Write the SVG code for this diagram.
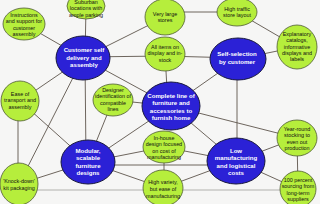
<svg xmlns="http://www.w3.org/2000/svg" width="320" height="204" viewBox="0 0 320 204">
<style>
.c line{stroke:#5e554c;stroke-width:0.9}
.g ellipse{fill:#b6ee3c;stroke:#4e5a34;stroke-width:0.8}
.b ellipse{fill:#2b21d6;stroke:#18183e;stroke-width:1}
.g text{font-family:"Liberation Sans",Arial,sans-serif;font-size:5.4px;fill:#111;text-anchor:middle}
.b text{font-family:"Liberation Sans",Arial,sans-serif;font-size:6.1px;font-weight:bold;fill:#fff;text-anchor:middle}
</style>
<rect width="320" height="204" fill="#f6f6f5"/>
<g id="connectors" class="c">
<line x1="32" y1="190" x2="285" y2="190" style="stroke:#a9a9a6"/>
<line x1="83" y1="58" x2="24" y2="24"/>
<line x1="85" y1="58" x2="86" y2="7"/>
<line x1="83" y1="58" x2="165" y2="17"/>
<line x1="83" y1="57" x2="165" y2="56"/>
<line x1="165" y1="56" x2="238" y2="58"/>
<line x1="165" y1="12" x2="237" y2="12"/>
<line x1="237" y1="12" x2="297" y2="47"/>
<line x1="297" y1="47" x2="238" y2="59"/>
<line x1="238" y1="59" x2="171" y2="106"/>
<line x1="165" y1="54" x2="168" y2="106"/>
<line x1="83" y1="58" x2="171" y2="106"/>
<line x1="83" y1="58" x2="20" y2="101"/>
<line x1="85" y1="58" x2="86" y2="162"/>
<line x1="83" y1="58" x2="19" y2="184"/>
<line x1="18" y1="101" x2="18" y2="184"/>
<line x1="20" y1="101" x2="88" y2="162"/>
<line x1="19" y1="184" x2="88" y2="162"/>
<line x1="113" y1="100" x2="88" y2="162"/>
<line x1="113" y1="100" x2="171" y2="106"/>
<line x1="171" y1="106" x2="88" y2="162"/>
<line x1="171" y1="106" x2="236" y2="161"/>
<line x1="171" y1="106" x2="297" y2="138"/>
<line x1="237" y1="59" x2="237" y2="161"/>
<line x1="88" y1="162" x2="164" y2="147"/>
<line x1="88" y1="165" x2="236" y2="165"/>
<line x1="88" y1="162" x2="163" y2="188"/>
<line x1="164" y1="147" x2="236" y2="161"/>
<line x1="163" y1="188" x2="236" y2="161"/>
<line x1="164" y1="147" x2="164" y2="188"/>
<line x1="236" y1="161" x2="297" y2="138"/>
<line x1="236" y1="161" x2="298" y2="189"/>
<line x1="297" y1="138" x2="298" y2="189"/>
</g>
<g id="n-instructions" class="g"><ellipse cx="24" cy="24" rx="21" ry="16"/><text x="24" y="17">Instructions</text><text x="24" y="23.3">and support for</text><text x="24" y="29.6">customer</text><text x="24" y="35.9">assembly</text></g>
<g id="n-suburban" class="g"><ellipse cx="86" cy="6" rx="19" ry="13"/><text x="86" y="4">Suburban</text><text x="86" y="10.3">locations with</text><text x="86" y="16.6">ample parking</text></g>
<g id="n-verylarge" class="g"><ellipse cx="165" cy="17" rx="20" ry="18"/><text x="165" y="16">Very large</text><text x="165" y="22.3">stores</text></g>
<g id="n-allitems" class="g"><ellipse cx="165" cy="54" rx="20" ry="17"/><text x="165" y="49">All items on</text><text x="165" y="55.3">display and in-</text><text x="165" y="61.6">stock</text></g>
<g id="n-hightraffic" class="g"><ellipse cx="237" cy="12" rx="20" ry="14"/><text x="237" y="11">High traffic</text><text x="237" y="17.3">store layout</text></g>
<g id="n-explanatory" class="g"><ellipse cx="297" cy="47" rx="20" ry="22"/><text x="297" y="36">Explanatory</text><text x="297" y="42.3">catalogs,</text><text x="297" y="48.6">informative</text><text x="297" y="54.9">displays and</text><text x="297" y="61.2">labels</text></g>
<g id="n-ease" class="g"><ellipse cx="20" cy="101" rx="19" ry="20"/><text x="20" y="96">Ease of</text><text x="20" y="102.3">transport and</text><text x="20" y="108.6">assembly</text></g>
<g id="n-designer" class="g"><ellipse cx="113" cy="100" rx="20" ry="16"/><text x="113" y="92">Designer</text><text x="113" y="98.3">identification of</text><text x="113" y="104.6">compatible</text><text x="113" y="110.9">lines</text></g>
<g id="n-yearround" class="g"><ellipse cx="297" cy="138" rx="20" ry="18"/><text x="297" y="131">Year-round</text><text x="297" y="137.3">stocking to</text><text x="297" y="143.6">even out</text><text x="297" y="149.9">production</text></g>
<g id="n-knockdown" class="g"><ellipse cx="19" cy="184" rx="19" ry="21"/><text x="19" y="183">'Knock-down'</text><text x="19" y="190.3">kit packaging</text></g>
<g id="n-inhouse" class="g"><ellipse cx="164" cy="147" rx="21" ry="16"/><text x="164" y="140">In-house</text><text x="164" y="146.3">design focused</text><text x="164" y="152.6">on cost of</text><text x="164" y="158.9">manufacturing</text></g>
<g id="n-highvariety" class="g"><ellipse cx="163" cy="188" rx="20" ry="18"/><text x="163" y="184">High variety,</text><text x="163" y="191">but ease of</text><text x="163" y="198">manufacturing</text></g>
<g id="n-sourcing" class="g"><ellipse cx="298" cy="189" rx="18" ry="18"/><text x="298" y="182">100 percent</text><text x="298" y="188.3">sourcing from</text><text x="298" y="194.6">long-term</text><text x="298" y="200.9">suppliers</text></g>
<g id="n-customer" class="b"><ellipse cx="83" cy="58" rx="27" ry="22"/><text x="84" y="52">Customer self</text><text x="84" y="59.5">delivery and</text><text x="84" y="67">assembly</text></g>
<g id="n-selfselection" class="b"><ellipse cx="238" cy="59" rx="28" ry="21"/><text x="237" y="56">Self-selection</text><text x="237" y="64">by customer</text></g>
<g id="n-complete" class="b"><ellipse cx="171" cy="106" rx="29" ry="24"/><text x="171" y="98">Complete line of</text><text x="171" y="105.4">furniture and</text><text x="171" y="112.8">accessories to</text><text x="171" y="120.2">furnish home</text></g>
<g id="n-modular" class="b"><ellipse cx="88" cy="162" rx="27" ry="22"/><text x="88" y="153">Modular,</text><text x="88" y="160.4">scalable</text><text x="88" y="167.8">furniture</text><text x="88" y="175.2">designs</text></g>
<g id="n-low" class="b"><ellipse cx="236" cy="161" rx="29" ry="23"/><text x="236" y="153">Low</text><text x="236" y="160.4">manufacturing</text><text x="236" y="167.8">and logistical</text><text x="236" y="175.2">costs</text></g>
</svg>
